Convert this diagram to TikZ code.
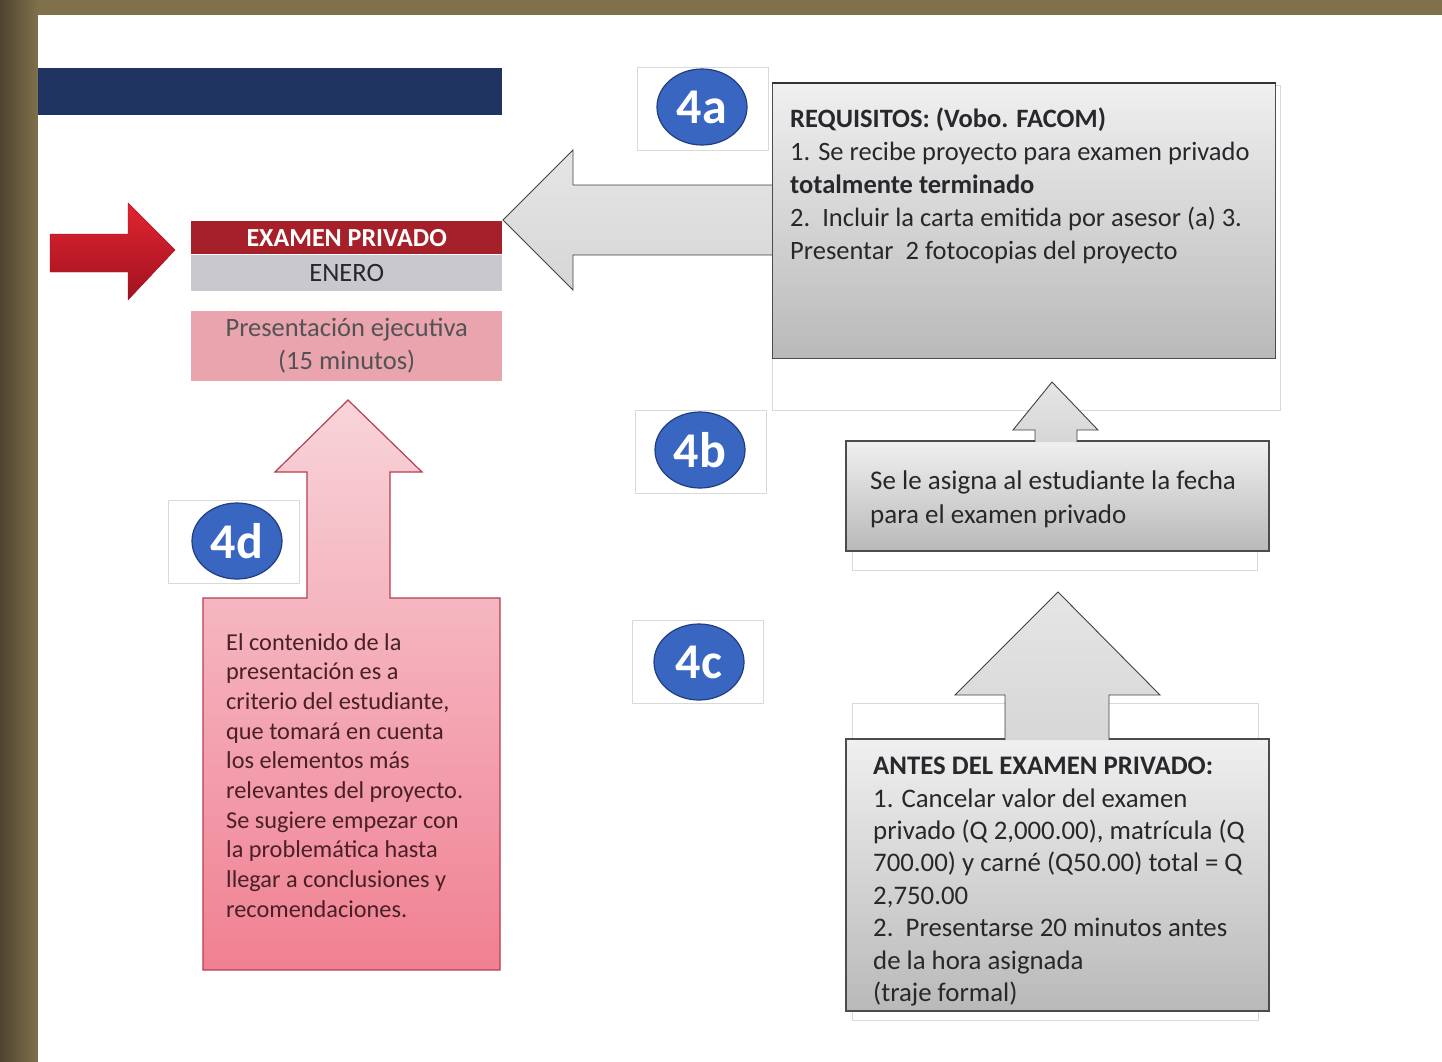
\documentclass[tikz,border=0pt]{standalone}
\usepackage{fontspec}
\setmainfont{Carlito}
\usetikzlibrary{shapes.geometric,positioning}
\definecolor{framebrown}{RGB}{128,112,76}
\definecolor{framedark}{RGB}{78,68,48}
\definecolor{navy}{RGB}{31,52,96}
\definecolor{examred}{RGB}{166,32,42}
\definecolor{enerogray}{RGB}{200,200,206}
\definecolor{presenpink}{RGB}{234,164,174}
\definecolor{badgeblue}{RGB}{56,102,192}
\definecolor{badgeedge}{RGB}{34,62,128}
\definecolor{arrowred}{RGB}{226,36,50}
\definecolor{arrowdark}{RGB}{160,18,30}
\definecolor{pinktop}{RGB}{248,212,218}
\definecolor{pinkbot}{RGB}{240,128,146}
\definecolor{pinkedge}{RGB}{184,62,80}
\definecolor{txtgray}{RGB}{40,40,44}
\definecolor{txtpink}{RGB}{72,32,38}
\tikzset{
    box/.style = {rectangle, inner sep=0pt, anchor=north west},
    bandbox/.style = {box, draw=none, minimum width=311pt, align=center},
    backbox/.style = {box, draw=gray!30, fill=white, line width=0.8pt},
    graybox/.style = {box, draw=black!70, line width=1.2pt,
        top color=gray!12, bottom color=gray!55},
    topedge/.style = {draw=black!80, line width=2.5pt},
    badgebox/.style = {box, draw=gray!30, fill=white, line width=0.8pt,
        minimum width=131pt, minimum height=83pt},
    badge/.style = {ellipse, draw=badgeedge, fill=badgeblue, line width=1.2pt,
        minimum width=90pt, minimum height=76pt, inner sep=0pt,
        text=white, font=\bfseries\fontsize{50}{50}\selectfont},
    boxtext/.style = {anchor=north west, inner sep=0pt, align=left, text=txtgray},
    grayarrow/.style = {draw=black!75, line width=0.9pt, line join=miter,
        top color=gray!20, bottom color=gray!32}
}
\begin{document}
\begin{tikzpicture}[x=1pt,y=-1pt]
    % frame
    \fill[framebrown] (0,0) rectangle (1442,1062);
    \fill[left color=framedark, right color=framebrown] (0,0) rectangle (38,1062);
    \fill[white] (38,15) rectangle (1442,1062);
    \useasboundingbox (0,0) rectangle (1442,1062);
    \node[box, fill=navy, minimum width=464pt, minimum height=47pt] (titlebar) at (38,68) {};

    % left column
    \node[bandbox, fill=examred, minimum height=33pt, text=white,
        font=\bfseries\fontsize{26}{30}\selectfont] (exam) at (191,221) {EXAMEN PRIVADO};
    \node[bandbox, fill=enerogray, minimum height=36pt, text=txtgray,
        font=\fontsize{26.5}{30}\selectfont, below=0pt of exam] (enero) {ENERO};
    \node[bandbox, fill=presenpink, minimum height=70pt, text=txtgray!80,
        font=\fontsize{26.5}{33}\selectfont, below=20pt of enero] (presen) {Presentación ejecutiva\\(15 minutos)};
    \draw[draw=arrowdark, line join=miter, top color=arrowred, bottom color=arrowdark]
        (50,234) -- (128,234) -- (128,203) -- (175,250) -- (128,300) -- (128,272) -- (50,272) -- cycle;

    % badges
    \foreach \n/\bx/\by/\cx/\cy in {4a/637/67/702/107, 4b/635/410/700/450,
        4c/632/620/699/662, 4d/168/500/237/541} {
        \node[badgebox] (b\n) at (\bx,\by) {};
        \node[badge] (e\n) at (\cx,\cy) {\n};
    }

    % 4a requisitos
    \draw[grayarrow] (772,185) -- (573,185) -- (573,150) -- (503,220) -- (573,290) -- (573,255) -- (772,255);
    \node[backbox, minimum width=508pt, minimum height=325pt] (reqback) at (772,85) {};
    \node[graybox, minimum width=503pt, minimum height=275pt] (req) at (772,83) {};
    \draw[topedge] (req.north west) -- (req.north east);
    \node[boxtext, font=\fontsize{26.5}{32.8}\selectfont] (reqtxt) at (790,108)
        {\textbf{REQUISITOS: (Vobo. FACOM)}\\
         1. Se recibe proyecto para examen privado\\
         \textbf{totalmente terminado}\\
         2.\ \ Incluir la carta emitida por asesor (a) 3.\\
         Presentar\ \ 2 fotocopias del proyecto};

    % 4b fecha
    \node[backbox, minimum width=405pt, minimum height=130pt] (fechaback) at (852,440) {};
    \node[graybox, line width=2pt, minimum width=423pt, minimum height=110pt] (fecha) at (845,440) {};
    \draw[grayarrow] (1035,442) -- (1035,430) -- (1013,430) -- (1052,382) -- (1098,430) -- (1077,430) -- (1077,442);
    \node[boxtext, font=\fontsize{27}{34}\selectfont] (fechatxt) at (870,471)
        {Se le asigna al estudiante la fecha\\
         para el examen privado};

    % 4c antes del examen
    \node[backbox, minimum width=406pt, minimum height=317pt] (antesback) at (852,703) {};
    \node[graybox, line width=2pt, minimum width=423pt, minimum height=272pt] (antes) at (845,738) {};
    \draw[grayarrow] (1005,740) -- (1005,695) -- (955,695) -- (1058,592) -- (1160,695) -- (1109,695) -- (1109,740);
    \node[boxtext, font=\fontsize{26.8}{32.4}\selectfont] (antestxt) at (873,757)
        {\textbf{ANTES DEL EXAMEN PRIVADO:}\\
         1. Cancelar valor del examen\\
         privado (Q 2,000.00), matrícula (Q\\
         700.00) y carné (Q50.00) total = Q\\
         2,750.00\\
         2.\ \ Presentarse 20 minutos antes\\
         de la hora asignada\\
         (traje formal)};

    % 4d contenido
    \draw[draw=pinkedge, line width=1.2pt, line join=miter, top color=pinktop, bottom color=pinkbot]
        (203,598) -- (307,598) -- (307,472) -- (275,472) -- (348,400) -- (422,472) -- (390,472)
        -- (390,598) -- (500,598) -- (500,970) -- (203,970) -- cycle;
    \node[boxtext, text=txtpink, font=\fontsize{24.3}{29.7}\selectfont] (contentxt) at (226,633)
        {El contenido de la\\
         presentación es a\\
         criterio del estudiante,\\
         que tomará en cuenta\\
         los elementos más\\
         relevantes del proyecto.\\
         Se sugiere empezar con\\
         la problemática hasta\\
         llegar a conclusiones y\\
         recomendaciones.};
\end{tikzpicture}
\end{document}
